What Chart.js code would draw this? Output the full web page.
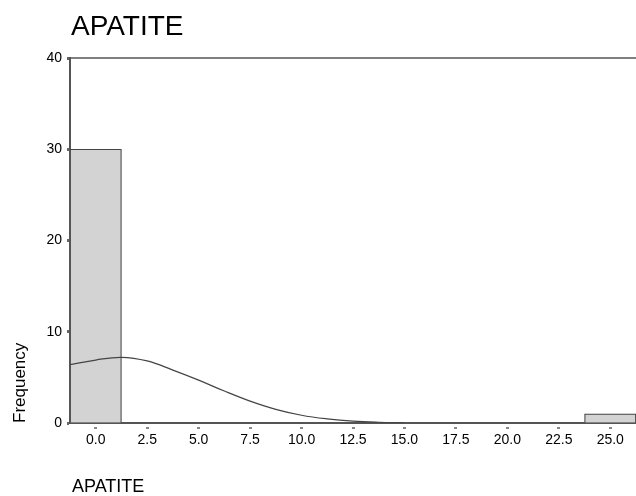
<!DOCTYPE html>
<html>
<head>
<meta charset="utf-8">
<script src="https://cdn.jsdelivr.net/npm/chart.js@4/dist/chart.umd.min.js"></script>
<style>
  html, body { margin: 0; padding: 0; background: #fff; }
  #wrap { width: 636px; height: 496px; position: relative; }
</style>
</head>
<body>
<div id="wrap"><canvas id="histChart"></canvas></div>
<script>
// Histogram bins (bin centres) and counts
const binCenters = [0, 2.5, 5, 7.5, 10, 12.5, 15, 17.5, 20, 22.5, 25];
const binCounts = [30, 0, 0, 0, 0, 0, 0, 0, 0, 0, 1];

// Normal curve
const curveX = [-1.25, 0, 1.25, 2.5, 3.75, 5, 6.25, 7.5, 8.75, 10, 11.25, 12.5, 13.75, 15];
const curveY = [6.4, 6.9, 7.2, 6.8, 5.8, 4.7, 3.5, 2.4, 1.5, 0.85, 0.45, 0.2, 0.08, 0.03];

const xTicks = [0, 2.5, 5, 7.5, 10, 12.5, 15, 17.5, 20, 22.5, 25];
const yTicks = [0, 10, 20, 30, 40];

const FONT = '"Liberation Sans", Arial, sans-serif';

// titles and frame line drawn straight onto the canvas
const textPlugin = {
  id: 'spssText',
  afterDraw(chart) {
    const ctx = chart.ctx;
    const area = chart.chartArea;
    ctx.save();
    // top frame line
    ctx.strokeStyle = '#555';
    ctx.lineWidth = 1.5;
    ctx.beginPath();
    ctx.moveTo(area.left, area.top);
    ctx.lineTo(area.right, area.top);
    ctx.stroke();

    ctx.fillStyle = '#000';
    ctx.textBaseline = 'alphabetic';
    ctx.textAlign = 'left';
    ctx.font = '28px ' + FONT;
    ctx.fillText('APATITE', 71, 35);

    ctx.font = '18px ' + FONT;
    ctx.fillText('APATITE', 72, 492);

    ctx.translate(25, 423);
    ctx.rotate(-Math.PI / 2);
    ctx.font = '17px ' + FONT;
    ctx.fillText('Frequency', 0, 0);
    ctx.restore();
  }
};

const ctx = document.getElementById('histChart').getContext('2d');
new Chart(ctx, {
  type: 'bar',
  data: {
    datasets: [
      {
        type: 'line',
        data: curveX.map((x, i) => ({ x: x, y: curveY[i] })),
        borderColor: '#444',
        borderWidth: 1.2,
        pointRadius: 0,
        tension: 0.4,
        fill: false,
        order: 0
      },
      {
        type: 'bar',
        data: binCenters.map((x, i) => ({ x: x, y: binCounts[i] })),
        backgroundColor: '#d3d3d3',
        borderColor: '#444',
        borderWidth: 1.2,
        categoryPercentage: 1,
        barPercentage: 1,
        order: 1
      }
    ]
  },
  options: {
    responsive: true,
    maintainAspectRatio: false,
    animation: false,
    layout: { padding: { top: 58, left: 0, right: 0, bottom: 0 } },
    plugins: {
      legend: { display: false },
      tooltip: { enabled: false }
    },
    scales: {
      x: {
        type: 'linear',
        offset: false,
        min: -1.25,
        max: 26.25,
        afterBuildTicks: (scale) => { scale.ticks = xTicks.map(v => ({ value: v })); },
        afterFit: (scale) => { scale.height = 73; },
        ticks: {
          autoSkip: false,
          maxRotation: 0,
          padding: 3,
          color: '#000',
          font: { family: FONT, size: 14 },
          callback: (v) => Number(v).toFixed(1)
        },
        grid: {
          offset: false,
          drawOnChartArea: false,
          drawTicks: true,
          tickLength: 6,
          tickWidth: 3,
          tickColor: '#888',
          tickBorderDash: [0, 3, 3, 20]
        },
        border: { display: true, color: '#555', width: 2 }
      },
      y: {
        min: 0,
        max: 40,
        afterBuildTicks: (scale) => { scale.ticks = yTicks.map(v => ({ value: v })); },
        afterFit: (scale) => { scale.width = 70; },
        ticks: {
          padding: 5,
          color: '#000',
          font: { family: FONT, size: 14 }
        },
        grid: {
          drawOnChartArea: false,
          drawTicks: true,
          tickLength: 3,
          tickWidth: 3,
          tickColor: '#666'
        },
        border: { display: true, color: '#555', width: 2 }
      }
    }
  },
  plugins: [textPlugin]
});
</script>
</body>
</html>
